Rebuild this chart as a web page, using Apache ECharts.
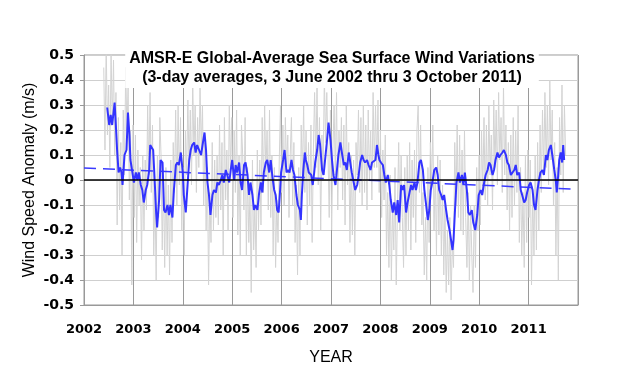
<!DOCTYPE html>
<html><head><meta charset="utf-8">
<script src="https://cdn.jsdelivr.net/npm/echarts@6/dist/echarts.min.js"></script>
<style>html,body{margin:0;padding:0;background:#fff}#c{width:618px;height:380px}</style>
</head><body><div id="c"></div>
<script>
var titleText = 'AMSR-E Global-Average Sea Surface Wind Variations\n(3-day averages, 3 June 2002 thru 3 October 2011)';
var yName = 'Wind Speed Anomaly (m/s)';
var xName = 'YEAR';
var yearTicks = [2002,2003,2004,2005,2006,2007,2008,2009,2010,2011];

// 3-day averages (gray), evenly spaced from grayStart to grayEnd
var grayStart = 2002.40, grayEnd = 2011.75;
var grayVals = [
0.45,0.12,0.55,0.18,0.38,0.05,0.52,0.22,0.48,0.10,0.35,-0.18,0.25,-0.12,0.15,-0.30,0.28,0.02,0.45,0.20,0.38,-0.08,0.20,-0.42,
0.22,-0.15,0.18,-0.25,0.12,-0.10,0.05,-0.32,0.10,-0.20,
0.08,-0.12,0.30,0.02,0.35,-0.05,0.22,-0.30,-0.05,-0.40,
0.10,-0.15,0.25,0.10,-0.28,0.02,-0.35,0.05,-0.30,-0.02,
-0.38,0.08,-0.25,0.15,-0.05,0.28,-0.10,0.30,-0.02,0.25,
-0.20,0.05,-0.30,0.20,0.02,0.32,0.05,0.28,-0.02,0.40,
0.10,0.30,-0.05,0.25,0.05,0.38,0.12,0.30,-0.10,0.15,
-0.20,0.05,-0.42,-0.05,-0.25,0.15,-0.20,0.08,-0.15,0.10,
-0.18,0.22,-0.12,0.15,-0.30,0.25,-0.08,0.12,-0.20,0.30,
0.05,0.25,-0.15,0.20,-0.05,0.28,-0.22,0.10,-0.30,0.22,
0.10,-0.12,0.25,-0.30,0.05,-0.25,-0.05,-0.45,0.08,-0.28,
-0.10,-0.35,0.12,-0.20,0.08,-0.18,0.25,-0.05,0.30,0.02,
0.20,-0.12,0.28,-0.15,0.10,-0.30,0.05,-0.35,-0.08,-0.25,
0.08,0.30,-0.05,0.22,-0.10,0.25,0.05,0.18,-0.15,0.10,
0.25,-0.10,0.15,-0.25,-0.02,-0.38,0.05,-0.30,0.22,0.02,
0.30,-0.05,0.20,-0.18,0.15,-0.10,0.22,-0.25,0.12,0.35,
0.05,0.40,-0.02,0.25,-0.20,0.18,0.02,0.42,0.15,0.35,
0.10,-0.15,0.28,-0.20,0.12,0.30,0.02,0.35,-0.12,0.20,
0.05,0.25,-0.08,0.22,-0.18,0.30,-0.02,0.15,-0.25,0.10,
-0.22,0.08,-0.30,0.15,0.02,0.28,-0.05,0.25,-0.10,0.30,
-0.05,0.22,-0.12,0.28,0.00,0.20,-0.08,0.35,0.05,0.30,
0.05,0.32,-0.05,0.20,-0.15,0.12,-0.08,0.18,-0.30,-0.05,
-0.35,0.02,-0.40,-0.10,-0.28,0.05,-0.42,-0.12,0.15,-0.20,
0.10,-0.15,-0.35,0.05,-0.30,0.10,-0.20,0.15,-0.28,0.08,
-0.15,0.12,-0.25,0.20,0.30,-0.05,0.22,-0.18,-0.05,-0.38,
-0.15,-0.40,0.05,-0.25,0.15,-0.02,0.22,-0.20,0.05,-0.30,
0.10,-0.22,0.08,-0.30,-0.02,-0.38,-0.10,-0.45,-0.20,-0.42,
-0.15,-0.48,-0.25,-0.35,0.15,-0.10,0.22,-0.15,0.18,-0.20,
0.12,-0.22,0.20,-0.15,-0.35,-0.05,-0.40,-0.10,-0.30,-0.45,
-0.10,-0.35,0.05,-0.20,0.10,-0.18,0.20,-0.05,0.25,-0.08,
0.22,-0.10,0.30,0.02,0.18,-0.12,0.32,0.05,0.28,-0.02,
0.35,0.08,0.25,-0.05,0.38,0.02,0.22,-0.12,0.15,-0.20,
0.18,-0.15,0.25,-0.10,0.20,-0.05,0.30,-0.25,0.05,-0.30,
-0.05,-0.35,0.10,-0.25,0.12,-0.15,0.08,-0.42,-0.05,-0.30,
0.10,-0.28,0.15,-0.20,0.22,-0.05,0.28,0.02,0.35,0.05,
0.30,-0.02,0.40,0.08,0.28,-0.10,0.15,-0.30,0.05,-0.40,
0.25,0.02,0.38,-0.05,0.30,0.10
];

// smoothed series (blue)
var blueT = [
2002.47,2002.51,2002.54,2002.57,2002.62,2002.65,2002.67,2002.70,2002.73,2002.76,2002.78,2002.80,2002.82,2002.86,2002.89,2002.92,2002.94,2002.98,
2003.01,2003.05,2003.08,2003.11,2003.15,2003.18,2003.21,2003.25,2003.28,2003.32,2003.34,2003.37,2003.40,2003.43,2003.46,2003.48,2003.52,2003.55,2003.59,2003.62,2003.65,2003.69,2003.72,2003.75,2003.79,2003.82,2003.86,2003.89,2003.92,2003.96,
2004.00,2004.02,2004.06,2004.09,2004.13,2004.16,2004.19,2004.23,2004.26,2004.29,2004.33,2004.37,2004.40,2004.44,2004.47,2004.50,2004.53,2004.56,2004.60,2004.63,2004.67,2004.70,2004.73,2004.77,2004.80,2004.83,2004.87,2004.90,2004.94,2004.97,
2005.00,2005.04,2005.07,2005.10,2005.14,2005.17,2005.20,2005.24,2005.27,2005.31,2005.34,2005.37,2005.41,2005.44,2005.47,2005.51,2005.54,2005.58,2005.61,2005.64,2005.68,2005.71,2005.75,2005.78,2005.81,2005.85,2005.88,2005.91,2005.94,2005.97,2005.99,
2006.03,2006.06,2006.10,2006.13,2006.16,2006.20,2006.23,2006.26,2006.30,2006.33,2006.37,2006.39,2006.41,2006.44,2006.47,2006.49,2006.52,2006.55,2006.58,2006.60,2006.63,2006.66,2006.68,2006.72,2006.75,2006.78,2006.82,2006.85,2006.88,2006.92,2006.95,2006.99,
2007.02,2007.05,2007.09,2007.12,2007.15,2007.19,2007.22,2007.26,2007.29,2007.32,2007.36,2007.39,2007.42,2007.46,2007.49,2007.53,2007.56,2007.59,2007.63,2007.66,2007.69,2007.73,2007.76,2007.80,2007.83,2007.86,2007.90,2007.93,2007.96,2007.98,
2008.01,2008.05,2008.08,2008.11,2008.15,2008.18,2008.21,2008.25,2008.28,2008.32,2008.35,2008.38,2008.42,2008.45,2008.48,2008.52,2008.55,2008.59,2008.62,2008.65,2008.69,2008.72,2008.75,2008.79,2008.82,2008.86,2008.89,2008.92,2008.96,2008.99,
2009.02,2009.06,2009.09,2009.13,2009.16,2009.19,2009.23,2009.26,2009.29,2009.33,2009.36,2009.40,2009.43,2009.46,2009.48,2009.51,2009.54,2009.58,2009.61,2009.65,2009.68,2009.71,2009.75,2009.78,2009.81,2009.85,2009.88,2009.92,2009.96,2009.99,
2010.03,2010.06,2010.10,2010.13,2010.17,2010.20,2010.23,2010.27,2010.30,2010.33,2010.37,2010.40,2010.43,2010.47,2010.50,2010.54,2010.57,2010.60,2010.64,2010.67,2010.71,2010.74,2010.77,2010.81,2010.84,2010.87,2010.91,2010.94,2010.97,
2011.01,2011.04,2011.08,2011.11,2011.14,2011.18,2011.21,2011.24,2011.28,2011.31,2011.35,2011.38,2011.41,2011.45,2011.48,2011.52,2011.55,2011.57,2011.60,2011.62,2011.65,2011.68,2011.70,2011.72
];
var blueV = [
0.29,0.22,0.26,0.22,0.31,0.20,0.12,0.03,0.05,0.03,-0.02,0.04,0.10,0.12,0.27,0.18,0.08,0.03,
-0.01,0.03,0.00,0.03,-0.02,-0.04,-0.09,-0.04,-0.02,0.04,0.14,0.14,0.12,0.00,-0.13,-0.19,-0.08,0.08,0.07,-0.12,-0.13,-0.10,-0.14,-0.10,-0.15,-0.04,0.06,0.07,0.06,0.11,
0.03,-0.06,-0.13,-0.04,0.08,0.12,0.14,0.15,0.11,0.14,0.12,0.10,0.14,0.19,0.12,-0.01,-0.06,-0.14,-0.06,-0.04,-0.05,-0.01,-0.02,0.00,0.02,-0.01,0.04,0.02,-0.01,0.04,
0.08,0.00,0.06,0.03,0.07,-0.01,-0.04,0.06,0.07,0.02,-0.06,-0.01,-0.06,-0.12,-0.10,-0.12,-0.06,-0.01,-0.05,0.03,0.07,0.08,0.03,0.08,0.02,-0.04,-0.06,-0.12,-0.13,-0.04,0.03,
0.08,0.12,0.03,0.04,0.03,0.08,0.04,0.02,-0.06,-0.10,-0.12,-0.16,-0.06,0.04,0.11,0.08,0.06,0.03,0.03,0.02,-0.02,0.03,0.07,0.12,0.18,0.14,0.04,0.02,0.08,0.16,0.23,0.16,
0.08,0.02,-0.02,0.04,0.10,0.15,0.11,0.06,0.07,0.04,0.11,0.07,0.03,-0.01,-0.04,-0.02,0.02,0.07,0.10,0.08,0.07,0.08,0.06,0.04,0.07,0.07,0.08,0.14,0.10,0.08,
0.07,0.06,0.02,-0.01,0.02,-0.02,-0.08,-0.13,-0.09,-0.14,-0.08,-0.17,-0.02,-0.04,-0.02,-0.13,-0.09,-0.05,-0.02,-0.04,-0.01,-0.04,-0.01,0.07,0.08,0.04,-0.04,-0.09,-0.16,-0.12,
-0.04,0.00,0.04,0.05,0.02,-0.04,-0.06,-0.08,-0.06,-0.12,-0.16,-0.20,-0.24,-0.28,-0.24,-0.12,-0.01,0.03,-0.01,0.02,-0.02,0.03,-0.04,-0.13,-0.14,-0.12,-0.17,-0.20,-0.14,-0.06,
-0.04,-0.06,-0.01,0.02,0.04,0.07,0.06,0.02,0.04,0.08,0.11,0.09,0.10,0.11,0.12,0.10,0.07,0.06,0.02,0.02,0.04,0.06,0.02,0.03,-0.04,-0.06,-0.09,-0.08,-0.05,
-0.02,-0.01,-0.04,-0.10,-0.12,-0.04,0.00,0.03,0.04,0.02,0.10,0.08,0.12,0.14,0.10,0.04,0.00,-0.05,0.02,0.08,0.11,0.07,0.14,0.08
];

// linear trend (dashed)
var trendT = [2002.0, 2011.92];
var trendV = [0.048, -0.037];

var grayData = grayVals.map(function(v, i){ return [grayStart + i*(grayEnd-grayStart)/(grayVals.length-1), v]; });
var blueData = blueT.map(function(t, i){ return [t, blueV[i]]; });
var trendData = trendT.map(function(t, i){ return [t, trendV[i]]; });

var chart = echarts.init(document.getElementById('c'), null, {renderer:'canvas'});
chart.setOption({
  animation: false,
  backgroundColor: '#fff',
  title: {
    text: titleText,
    left: 328, textAlign: 'center', top: 47,
    backgroundColor: '#fff',
    padding: [2, 4, 1, 4],
    textStyle: { fontFamily: 'Liberation Sans, Arial', fontWeight: 'bold', fontSize: 16, lineHeight: 19, color: '#000', align: 'center' }
  },
  grid: { left: 84, right: 40, top: 55, bottom: 75, show: true, borderColor: '#999', borderWidth: 1 },
  xAxis: {
    type: 'value', min: 2002, max: 2012, interval: 1,
    name: xName, nameLocation: 'middle', nameGap: 45, nameMoveOverlap: false,
    nameTextStyle: { fontFamily: 'Liberation Sans, Arial', fontSize: 16, color: '#000' },
    axisLine: { show: true, onZero: false, lineStyle: { color: '#999' } },
    axisTick: { show: false },
    axisLabel: {
      margin: 18, color: '#000', fontFamily: 'DejaVu Sans', fontWeight: 'bold', fontSize: 13,
      formatter: function(v){ return yearTicks.indexOf(v) >= 0 ? String(v) : ''; }
    },
    splitLine: { show: true, lineStyle: { color: '#9a9a9a', width: 1 } }
  },
  yAxis: {
    type: 'value', min: -0.5, max: 0.5, interval: 0.1,
    name: yName, nameLocation: 'middle', nameGap: 46, nameMoveOverlap: false,
    nameTextStyle: { fontFamily: 'Liberation Sans, Arial', fontSize: 16, color: '#000' },
    axisLine: { show: true, lineStyle: { color: '#999' } },
    axisTick: { show: true, length: 4, lineStyle: { color: '#999' } },
    axisLabel: {
      margin: 10, color: '#000', fontFamily: 'DejaVu Sans', fontWeight: 'bold', fontSize: 14,
      formatter: function(v){ return String(Math.round(v*10)/10); }
    },
    splitLine: { show: true, lineStyle: { color: '#cfcfcf', width: 1 } }
  },
  series: [
    {
      type: 'line', data: grayData, symbol: 'none', z: 2, clip: true,
      lineStyle: { color: '#d3d3d3', width: 1 },
      markLine: {
        silent: true, symbol: 'none', label: { show: false },
        lineStyle: { color: '#000', width: 1.5, type: 'solid' },
        data: [{ yAxis: 0 }]
      }
    },
    {
      type: 'line', data: trendData, symbol: 'none', z: 3,
      lineStyle: { color: '#3a3aff', width: 1.5, type: [12, 7] }
    },
    {
      type: 'line', data: blueData, symbol: 'none', z: 4,
      lineStyle: { color: '#3333ff', width: 2 }
    }
  ]
});
</script>
</body></html>
